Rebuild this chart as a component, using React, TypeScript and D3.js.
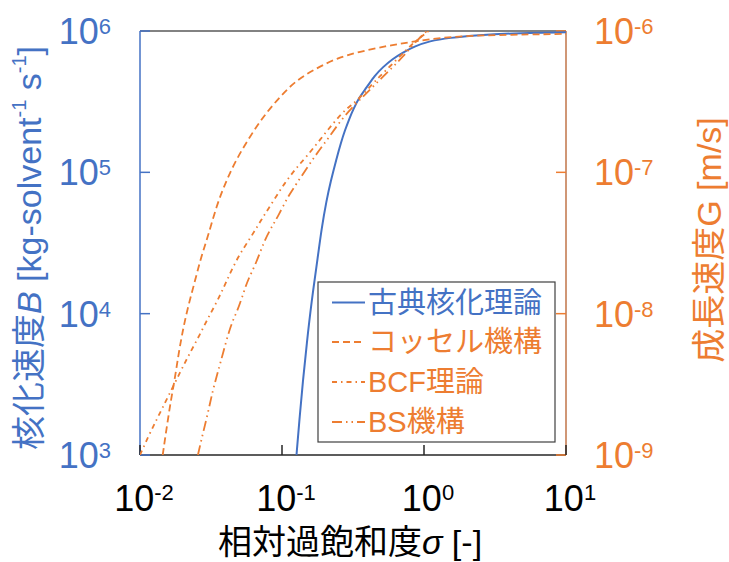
import React from "react";
import * as d3 from "d3";

// ---- axis ticks ----
const xTicks = [0.01, 0.1, 1, 10];
const xTickExp = ["-2", "-1", "0", "1"];
const bTicks = [1e3, 1e4, 1e5, 1e6];
const bTickExp = ["3", "4", "5", "6"];
const gTicks = [1e-9, 1e-8, 1e-7, 1e-6];
const gTickExp = ["-9", "-8", "-7", "-6"];

// ---- series ----
const seriesNames = ["古典核化理論", "コッセル機構", "BCF理論", "BS機構"];

const cntSigma = [0.1265, 0.1334, 0.1406, 0.1493, 0.1611, 0.1795, 0.19, 0.2056, 0.22, 0.2415, 0.26, 0.2767, 0.3, 0.3162, 0.35, 0.3926, 0.45, 0.514, 0.6, 0.7112, 0.85, 1.094, 1.5, 2.46, 4, 10];
const cntB = [1.0e3, 1.9e3, 3.4e3, 6.1e3, 1.2e4, 2.6e4, 4.0e4, 6.3e4, 8.6e4, 1.24e5, 1.62e5, 1.97e5, 2.44e5, 2.76e5, 3.4e5, 3.95e5, 4.85e5, 5.55e5, 6.35e5, 7.05e5, 7.75e5, 8.5e5, 8.95e5, 9.37e5, 9.63e5, 9.78e5];

const kosselSigma = [0.01445, 0.01618, 0.01754, 0.01871, 0.02004, 0.02178, 0.02449, 0.02698, 0.03006, 0.03443, 0.03981, 0.04732, 0.05943, 0.07362, 0.09661, 0.1265, 0.175, 0.2415, 0.3524, 0.5433, 0.7516, 1.435, 3.221, 9.441, 10];
const kosselG = [1.0e-9, 2.19e-9, 3.39e-9, 5.24e-9, 7.66e-9, 1.12e-8, 1.73e-8, 2.53e-8, 3.5e-8, 5.71e-8, 8.36e-8, 1.22e-7, 1.79e-7, 2.47e-7, 3.43e-7, 4.5e-7, 5.45e-7, 6.41e-7, 7.14e-7, 7.83e-7, 8.26e-7, 9.12e-7, 9.38e-7, 9.53e-7, 9.55e-7];

const bcfSigma = [0.01, 0.0117, 0.01339, 0.01574, 0.01951, 0.02239, 0.0263, 0.03006, 0.0354, 0.04046, 0.04887, 0.06067, 0.07129, 0.0861, 0.1041, 0.1256, 0.1486, 0.1845, 0.2286, 0.2844, 0.3342, 0.4375, 0.514, 0.6383, 0.7516, 0.8831, 1.038, 1.13];
const bcfG = [1.0e-9, 1.42e-9, 1.86e-9, 2.58e-9, 3.99e-9, 5.24e-9, 7.06e-9, 9.27e-9, 1.25e-8, 1.68e-8, 2.53e-8, 3.5e-8, 4.59e-8, 6.19e-8, 8.36e-8, 1.07e-7, 1.29e-7, 1.69e-7, 2.22e-7, 2.84e-7, 3.16e-7, 4.27e-7, 5.02e-7, 6.24e-7, 7.35e-7, 8.63e-7, 9.63e-7, 1.05e-6];

const bsSigma = [0.02559, 0.02698, 0.03006, 0.03258, 0.0354, 0.03837, 0.04385, 0.04831, 0.05383, 0.05741, 0.06577, 0.07534, 0.0861, 0.09338, 0.1099, 0.1225, 0.175, 0.2168, 0.2692, 0.3715, 0.4624, 0.6039, 0.7112, 0.8318, 1.009, 1.13];
const bsG = [1.0e-9, 1.27e-9, 1.97e-9, 2.88e-9, 3.88e-9, 5.24e-9, 8.53e-9, 1.03e-8, 1.42e-8, 1.73e-8, 2.27e-8, 3.32e-8, 4.24e-8, 4.85e-8, 6.71e-8, 7.91e-8, 1.36e-7, 1.79e-7, 2.47e-7, 3.43e-7, 4.27e-7, 5.58e-7, 6.58e-7, 7.96e-7, 9.68e-7, 1.07e-6];

const BLUE = "#4472C4";
const ORANGE = "#ED7D31";
const FONT = "'Liberation Sans', Arial, 'Noto Sans CJK JP', sans-serif";

const W = 729;
const H = 562;
const L = 140, R = 566, T = 31, B = 455;

export default function App() {
  const x = d3.scaleLog().domain([0.01, 10]).range([L, R]);
  const yB = d3.scaleLog().domain([1e3, 1e6]).range([B, T]);
  const yG = d3.scaleLog().domain([1e-9, 1e-6]).range([B, T]);

  const zip = (a: number[], b: number[]) => a.map((v, i) => [v, b[i]] as [number, number]);
  const lineB = d3.line<[number, number]>().x(d => x(d[0])).y(d => yB(d[1])).curve(d3.curveBasis);
  const lineG = d3.line<[number, number]>().x(d => x(d[0])).y(d => yG(d[1])).curve(d3.curveBasis);

  const series = [
    { name: seriesNames[0], d: lineB(zip(cntSigma, cntB)), color: BLUE, dash: "none", w: 2 },
    { name: seriesNames[1], d: lineG(zip(kosselSigma, kosselG)), color: ORANGE, dash: "7,4", w: 1.8 },
    { name: seriesNames[2], d: lineG(zip(bcfSigma, bcfG)), color: ORANGE, dash: "5,4,1.5,4", w: 1.8 },
    { name: seriesNames[3], d: lineG(zip(bsSigma, bsG)), color: ORANGE, dash: "10,4,1.5,4,1.5,4", w: 1.8 },
  ];

  const legX = 318, legY = 282, legW = 237, legH = 160;
  const rowY = [302.5, 342, 382, 422];

  return (
    <svg width={W} height={H} style={{ position: "absolute", left: 0, top: 0, background: "#fff" }} fontFamily={FONT}>
      <defs>
        <clipPath id="plotClip">
          <rect x={L} y={T} width={R - L} height={B - T} />
        </clipPath>
      </defs>
      <rect x={0} y={0} width={W} height={H} fill="#fff" />

      {/* frame */}
      <line x1={L} x2={R} y1={T} y2={T} stroke="#595959" strokeWidth={1.5} />
      <line x1={L} x2={R} y1={B} y2={B} stroke="#262626" strokeWidth={1.5} />
      <line x1={L} x2={L} y1={T} y2={B} stroke={BLUE} strokeWidth={1.5} />
      <line x1={R} x2={R} y1={T} y2={B} stroke="#C07548" strokeWidth={1.5} />

      {/* ticks */}
      {bTicks.map((t, i) => (
        <line key={"bt" + i} x1={L} x2={L + 10} y1={yB(t)} y2={yB(t)} stroke={BLUE} strokeWidth={1.5} />
      ))}
      {gTicks.map((t, i) => (
        <line key={"gt" + i} x1={R - 10} x2={R} y1={yG(t)} y2={yG(t)} stroke={ORANGE} strokeWidth={1.5} />
      ))}
      {xTicks.map((t, i) => (
        <line key={"xt" + i} x1={x(t)} x2={x(t)} y1={B} y2={B - 10} stroke="#262626" strokeWidth={1.5} />
      ))}

      {/* series */}
      <g clipPath="url(#plotClip)">
        {series.map((s, i) => (
          <path key={"s" + i} d={s.d || ""} fill="none" stroke={s.color} strokeWidth={s.w} strokeDasharray={s.dash} />
        ))}
      </g>

      {/* tick labels */}
      {bTicks.map((t, i) => (
        <text key={"bl" + i} x={111} y={yB(t) + 13} textAnchor="end" fontSize={36} fill={BLUE}>
          <tspan>10</tspan>
          <tspan dy={-10} fontSize={22}>{bTickExp[i]}</tspan>
        </text>
      ))}
      {gTicks.map((t, i) => (
        <text key={"gl" + i} x={594} y={yG(t) + 13} textAnchor="start" fontSize={36} fill={ORANGE}>
          <tspan>10</tspan>
          <tspan dy={-10} fontSize={22}>{gTickExp[i]}</tspan>
        </text>
      ))}
      {xTicks.map((t, i) => (
        <text key={"xl" + i} x={x(t) + 4} y={511} textAnchor="middle" fontSize={36} fill="#000">
          <tspan>10</tspan>
          <tspan dy={-11} fontSize={22}>{xTickExp[i]}</tspan>
        </text>
      ))}

      {/* axis titles */}
      <text x={350} y={554} textAnchor="middle" fontSize={34} fill="#000">
        <tspan>相対過飽和度</tspan>
        <tspan fontStyle="italic">σ</tspan>
        <tspan> [-]</tspan>
      </text>
      <text transform="translate(29,248) rotate(-90)" textAnchor="middle" dominantBaseline="central" fontSize={34} fill={BLUE}>
        <tspan>核化速度</tspan>
        <tspan fontStyle="italic">B</tspan>
        <tspan> [kg-solvent</tspan>
        <tspan dy={-10} fontSize={20}>-1</tspan>
        <tspan dy={10}> s</tspan>
        <tspan dy={-10} fontSize={20}>-1</tspan>
        <tspan dy={10}>]</tspan>
      </text>
      <text transform="translate(709,240) rotate(-90)" textAnchor="middle" dominantBaseline="central" fontSize={34} fill={ORANGE}>
        成長速度G [m/s]
      </text>

      {/* legend */}
      <rect x={legX} y={legY} width={legW} height={legH} fill="#fff" stroke="#404040" strokeWidth={1.2} />
      {series.map((s, i) => (
        <g key={"lg" + i}>
          <line x1={332} x2={365} y1={rowY[i]} y2={rowY[i]} stroke={s.color} strokeWidth={s.w} strokeDasharray={s.dash} />
          <text x={368} y={rowY[i]} dominantBaseline="central" fontSize={29} fill={s.color}>{s.name}</text>
        </g>
      ))}
    </svg>
  );
}
